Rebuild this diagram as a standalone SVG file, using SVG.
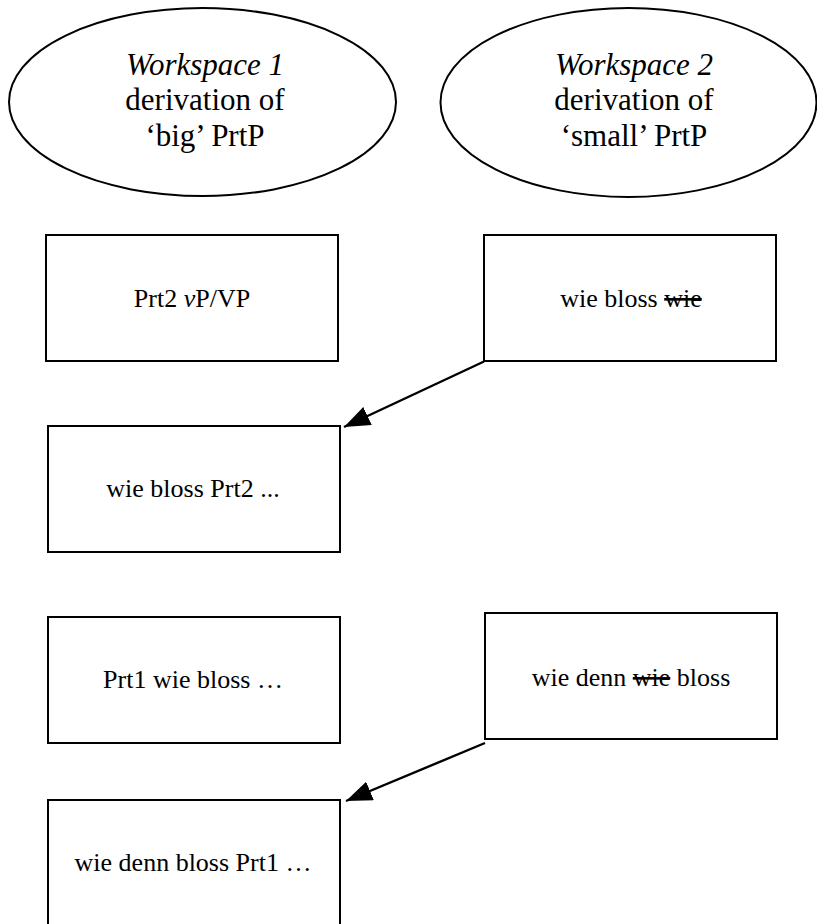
<svg xmlns="http://www.w3.org/2000/svg" width="817" height="924" viewBox="0 0 817 924">
<style>
  .shape { fill: #fff; stroke: #000; stroke-width: 2; }
  .t { font-family: "Liberation Serif", "Times New Roman", serif; font-size: 26px; fill: #000; text-anchor: middle; }
  .et { font-family: "Liberation Serif", "Times New Roman", serif; font-size: 31px; fill: #000; text-anchor: middle; }
  .conn { stroke: #000; stroke-width: 2.4; fill: none; }
</style>
<defs>
  <marker id="arrow" markerUnits="userSpaceOnUse" markerWidth="28" markerHeight="22" refX="26" refY="10" orient="auto">
    <path d="M0,0 L26,10 L0,20 Z" fill="#000"/>
  </marker>
</defs>
<rect width="817" height="924" fill="#fff"/>
<g id="ws1">
  <ellipse class="shape" cx="202.5" cy="102" rx="193.5" ry="94"/>
  <text class="et" x="205" y="75"><tspan font-style="italic">Workspace 1</tspan></text>
  <text class="et" x="205" y="110">derivation of</text>
  <text class="et" x="205" y="146">‘big’ PrtP</text>
</g>
<g id="ws2">
  <ellipse class="shape" cx="628.5" cy="102.5" rx="188" ry="94.5"/>
  <text class="et" x="634" y="75"><tspan font-style="italic">Workspace 2</tspan></text>
  <text class="et" x="634" y="110">derivation of</text>
  <text class="et" x="634" y="146">‘small’ PrtP</text>
</g>
<g id="box1">
  <rect class="shape" x="46" y="235" width="292" height="126"/>
  <text class="t" x="192" y="307">Prt2 <tspan font-style="italic">v</tspan>P/VP</text>
</g>
<g id="box2">
  <rect class="shape" x="484" y="235" width="292" height="126"/>
  <text class="t" x="631" y="307">wie bloss <tspan text-decoration="line-through">wie</tspan></text>
</g>
<g id="box3">
  <rect class="shape" x="48" y="426" width="292" height="126"/>
  <text class="t" x="193" y="497">wie bloss Prt2  ...</text>
</g>
<g id="box4">
  <rect class="shape" x="48" y="617" width="292" height="126"/>
  <text class="t" x="193" y="688">Prt1 wie bloss …</text>
</g>
<g id="box5">
  <rect class="shape" x="485" y="613" width="292" height="126"/>
  <text class="t" x="631" y="686">wie denn <tspan text-decoration="line-through">wie</tspan> bloss</text>
</g>
<g id="box6">
  <rect class="shape" x="48" y="800" width="292" height="126"/>
  <text class="t" x="193" y="871">wie denn bloss Prt1 …</text>
</g>
<g id="connectors">
  <line class="conn" x1="484" y1="361.5" x2="344" y2="427" marker-end="url(#arrow)"/>
  <line class="conn" x1="485" y1="743" x2="346" y2="801" marker-end="url(#arrow)"/>
</g>
</svg>
